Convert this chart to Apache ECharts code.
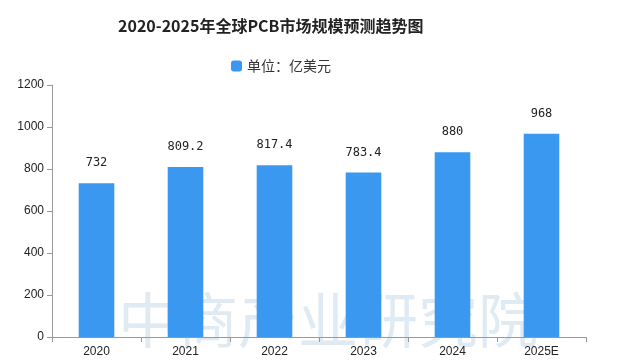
<!DOCTYPE html>
<html><head><meta charset="utf-8">
<script src="https://cdn.jsdelivr.net/npm/echarts@6/dist/echarts.min.js"></script>
<style>html,body{margin:0;padding:0;background:#fff}#c{width:629px;height:364px}</style>
</head><body><div id="c"></div>
<script>
const categories = ['2020','2021','2022','2023','2024','2025E'];
const values = [732, 809.2, 817.4, 783.4, 880, 968];
const labels = ['732','809.2','817.4','783.4','880','968'];
const yTicks = [0,200,400,600,800,1000,1200];

const chart = echarts.init(document.getElementById('c'));
chart.setOption({
  backgroundColor:'#fff',
  animation:false,
  title:{text:'2020-2025年全球PCB市场规模预测趋势图',left:113,top:13,
    textStyle:{fontFamily:'Noto Sans CJK SC',fontWeight:'bold',fontSize:16,color:'#222'}},
  legend:{data:['单位：亿美元'],left:226,top:54,itemWidth:11,itemHeight:11,itemGap:5,
    textStyle:{fontFamily:'Noto Sans CJK SC',fontSize:14,color:'#333'}},
  graphic:[
    {type:'text',left:118,top:290,z:0,style:{text:'中商产业研究院',fontSize:60,fontFamily:'Noto Sans CJK SC',fill:'rgba(150,185,215,0.3)'}}
  ],
  grid:{left:52,right:43,top:85,bottom:27},
  xAxis:{type:'category',data:categories,
    axisLine:{lineStyle:{color:'#999'}},axisTick:{show:true,lineStyle:{color:'#999'}},
    axisLabel:{color:'#222',fontSize:12,margin:9}},
  yAxis:{type:'value',min:yTicks[0],max:yTicks[yTicks.length-1],interval:200,
    splitLine:{show:false},
    axisLine:{show:true,lineStyle:{color:'#999'}},axisTick:{show:true,length:5,lineStyle:{color:'#999'}},
    axisLabel:{color:'#222',fontSize:12,margin:8,formatter:v=>String(v)}},
  series:[{name:'单位：亿美元',type:'bar',data:values,barWidth:'40%',
    itemStyle:{color:'#3a98f0'},
    label:{show:true,position:'top',distance:14,color:'#222',fontSize:12,
      fontFamily:'DejaVu Sans Mono',
      formatter:p=>labels[p.dataIndex]}}]
});
</script></body></html>
